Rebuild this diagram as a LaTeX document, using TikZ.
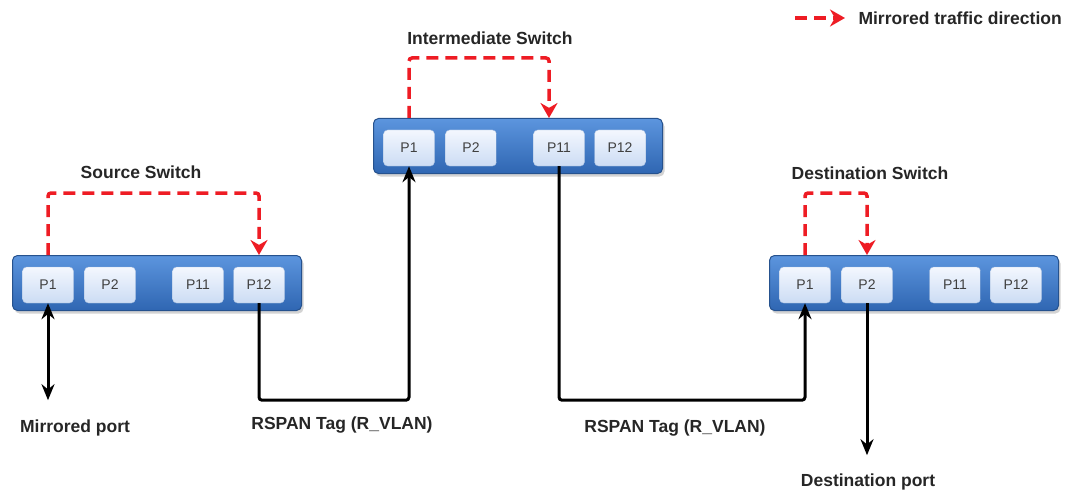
\documentclass[tikz,border=0pt]{standalone}
\usepackage{fontspec}
\setmainfont{Liberation Sans}
\usetikzlibrary{arrows.meta,calc,shadows}
\definecolor{swtop}{HTML}{5C95DE}
\definecolor{swbot}{HTML}{2F66B2}
\definecolor{porttop}{HTML}{F3F7FE}
\definecolor{portbot}{HTML}{CCDCF4}
\definecolor{mirred}{HTML}{EE1C24}
\tikzset {
  >=Stealth,
  every node/.style={font=\bfseries\fontsize{17.5}{20}\selectfont},
  switch/.style={rounded corners=5pt, top color=swtop, bottom color=swbot,
    draw=swbot!80!black, line width=1pt, minimum width=289pt, minimum height=55pt,
    drop shadow={shadow xshift=2pt, shadow yshift=-3pt, opacity=0.35}},
  port/.style={rounded corners=4pt, top color=porttop, bottom color=portbot,
    draw=swbot!45!white, minimum width=51pt, minimum height=36pt,
    font=\fontsize{14}{16}\selectfont, text=black!75},
  lbl/.style={text=black!85},
  mirror/.style={mirred, line width=3.5pt, dash pattern=on 12pt off 7pt, rounded corners=3pt,
    -{Stealth[length=15pt,width=17pt]}},
  link/.style={black, line width=3pt, rounded corners=3pt},
  tip/.style={Stealth[length=16pt,width=13pt]},
}

\begin{document}
\begin{tikzpicture}[x=1pt,y=-1pt]
  \useasboundingbox (0,0) rectangle (1084,492);
  % switches and their ports
  \node[switch] (src) at (157,283) {};
  \node[switch] (mid) at (518,146) {};
  \node[switch] (dst) at (914,283) {};
  \foreach \sw in {src,mid,dst}
    \foreach \p/\dx in {P1/36,P2/98,P11/186,P12/247}
      \node[port] (\sw\p) at ($(\sw.west)+(\dx,2)$) {\p};
  \node[lbl] (srcname) at (141,172) {Source Switch};
  \node[lbl] (midname) at (490,38) {Intermediate Switch};
  \node[lbl] (dstname) at (870,173) {Destination Switch};
  % mirrored traffic
  \draw[mirror] (srcP1 |- src.north) -- ++(0,-62) -| (srcP12 |- src.north);
  \draw[mirror] (midP1 |- mid.north) -- ++(0,-60) -| ([xshift=-10pt]midP11 |- mid.north);
  \draw[mirror] (dstP1 |- dst.north) -- ++(0,-62) -| (dstP2 |- dst.north);
  % rspan links
  \draw[link,-{Stealth[length=16pt,width=13pt]}] (srcP12.south) -- ++(0,97) -| (midP1.south);
  \draw[link,-{Stealth[length=16pt,width=13pt]}] (midP11.south) -- ++(0,234) -| (dstP1.south);
  \draw[link,{Stealth[length=16pt,width=13pt]}-{Stealth[length=16pt,width=13pt]}] (srcP1.south) -- ++(0,97);
  \draw[link,-{Stealth[length=16pt,width=13pt]}] (dstP2.south) -- ++(0,152);
  \node[lbl] (mport) at (75,428) {Mirrored port};
  \node[lbl] (tag1) at (342,425) {RSPAN Tag (R\_VLAN)};
  \node[lbl] (tag2) at (675,428) {RSPAN Tag (R\_VLAN)};
  \node[lbl] (dport) at (868,482) {Destination port};
  % legend
  \coordinate (lgA) at (795,18);
  \draw[mirror] (lgA) -- ++(50,0);
  \node[lbl,anchor=west] (lgtext) at (855,18) {Mirrored traffic direction};
\end{tikzpicture}
\end{document}
